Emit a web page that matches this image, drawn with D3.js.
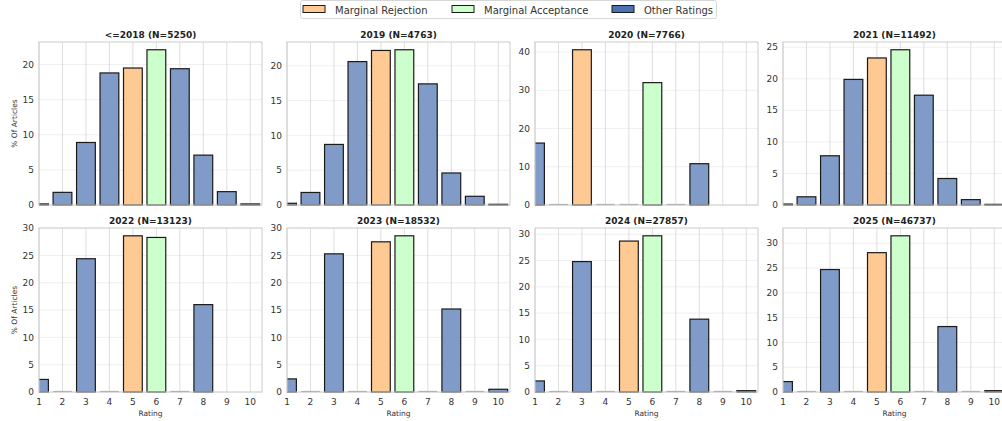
<!DOCTYPE html>
<html><head><meta charset="utf-8">
<script src="https://cdn.jsdelivr.net/npm/d3@7"></script>
<style>
html,body{margin:0;padding:0;background:#fff;}
svg{display:block;font-family:"DejaVu Sans",sans-serif;}
</style></head>
<body><svg id="c" width="1002" height="421"></svg>
<script>
const ratings = [1,2,3,4,5,6,7,8,9,10];
const panelTitles = ["<=2018 (N=5250)","2019 (N=4763)","2020 (N=7766)","2021 (N=11492)",
                     "2022 (N=13123)","2023 (N=18532)","2024 (N=27857)","2025 (N=46737)"];
const v2018 = [0.15,1.8,8.9,18.8,19.5,22.1,19.4,7.1,1.9,0.15];
const v2019 = [0.25,1.8,8.7,20.6,22.2,22.3,17.4,4.6,1.25,0.1];
const v2020 = [16.2,0,40.6,0,0,32.0,0,10.8,null,null];
const v2021 = [0.15,1.3,7.8,19.9,23.3,24.6,17.4,4.2,0.85,0.1];
const v2022 = [2.3,0,24.4,0,28.6,28.3,0,16.0,null,null];
const v2023 = [2.4,0,25.3,0,27.5,28.6,0,15.2,0,0.5];
const v2024 = [2.1,0,24.8,0,28.7,29.7,0,13.85,0,0.25];
const v2025 = [2.1,0,24.7,0,28.1,31.5,0,13.2,0,0.27];
const seriesValues = [v2018,v2019,v2020,v2021,v2022,v2023,v2024,v2025];
const marginalReject = [5,5,3,5,5,5,5,5];
const marginalAccept = [6,6,6,6,6,6,6,6];
const legendLabels = ["Marginal Rejection","Marginal Acceptance","Other Ratings"];
const xTickLabels = ["1","2","3","4","5","6","7","8","9","10"];

const colOrange = "#FFC994", colGreen = "#CCFFCC", colBlue = "#819BC8";
const legendFill = ["#FFC994","#CCFFCC","#4C72B0"];

const svg = d3.select("#c");
const lefts = [39,287,535,783];
const pw = 223;
const rows = [{top:42,bottom:205},{top:228,bottom:392}];

seriesValues.forEach((vals,i)=>{
  const col = i%4, row = Math.floor(i/4);
  const x0 = lefts[col], {top,bottom} = rows[row];
  const fillFor = r => r===marginalReject[i]?colOrange:(r===marginalAccept[i]?colGreen:colBlue);
  const x = d3.scaleLinear().domain([1,10.5]).range([x0,x0+pw]);
  const ymax = d3.max(vals.filter(v=>v!==null))*1.05;
  const y = d3.scaleLinear().domain([0,ymax]).range([bottom,top]);
  const g = svg.append("g");
  const clipId = "clip"+i;
  g.append("clipPath").attr("id",clipId).append("rect")
    .attr("x",x0).attr("y",top-2).attr("width",pw).attr("height",bottom-top+4);
  const yt = y.ticks(5);
  g.selectAll(".hg").data(yt).enter().append("line")
    .attr("x1",x0).attr("x2",x0+pw).attr("y1",d=>y(d)).attr("y2",d=>y(d))
    .attr("stroke","#ececec").attr("stroke-width",0.8);
  g.selectAll(".vg").data(ratings).enter().append("line")
    .attr("x1",d=>x(d)).attr("x2",d=>x(d)).attr("y1",top).attr("y2",bottom)
    .attr("stroke","#d6d6d6").attr("stroke-width",0.8);
  const bw = x(1.8)-x(1);
  const bars = ratings.map((r,j)=>({r, v:vals[j]})).filter(d=>d.v!==null);
  const bg = g.append("g").attr("clip-path","url(#"+clipId+")");
  bg.selectAll("rect.bar").data(bars.filter(d=>d.v>0)).enter().append("rect")
    .attr("x",d=>x(d.r)-bw/2).attr("width",bw)
    .attr("y",d=>y(d.v)).attr("height",d=>bottom-y(d.v))
    .attr("fill",d=>fillFor(d.r)).attr("stroke","#1a1a1a").attr("stroke-width",1.2);
  bg.selectAll("line.zero").data(bars.filter(d=>d.v===0)).enter().append("line")
    .attr("x1",d=>x(d.r)-bw/2).attr("x2",d=>x(d.r)+bw/2)
    .attr("y1",bottom-0.5).attr("y2",bottom-0.5)
    .attr("stroke","#999").attr("stroke-width",1.2);
  g.append("rect").attr("x",x0).attr("y",top).attr("width",pw).attr("height",bottom-top)
    .attr("fill","none").attr("stroke","#cccccc").attr("stroke-width",1);
  g.selectAll(".yl").data(yt).enter().append("text")
    .attr("x",x0-5).attr("y",d=>y(d)).attr("dy","0.35em").attr("text-anchor","end")
    .attr("font-size",9).attr("fill","#333").text(d=>d);
  g.append("text").attr("x",x0+pw/2).attr("y",top-4).attr("text-anchor","middle")
    .attr("font-size",9).attr("font-weight","bold").attr("fill","#222").text(panelTitles[i]);
  if(row===1){
    g.selectAll(".xl").data(ratings).enter().append("text")
      .attr("x",d=>x(d)).attr("y",bottom+13).attr("text-anchor","middle")
      .attr("font-size",9).attr("fill","#333").text((d,j)=>xTickLabels[j]);
    g.append("text").attr("x",x0+pw/2).attr("y",bottom+24).attr("text-anchor","middle")
      .attr("font-size",7.5).attr("fill","#333").text("Rating");
  }
  if(col===0){
    g.append("text").attr("transform",`translate(17,${(top+bottom)/2}) rotate(-90)`)
      .attr("text-anchor","middle").attr("font-size",7.5).attr("fill","#333").text("% Of Articles");
  }
});

const lg = svg.append("g");
lg.append("rect").attr("x",300.5).attr("y",0.5).attr("width",416).attr("height",18).attr("rx",2)
  .attr("fill","#fff").attr("stroke","#d6d6d6").attr("stroke-width",1);
const lx = [303,452,612];
legendLabels.forEach((t,k)=>{
  lg.append("rect").attr("x",lx[k]).attr("y",5.5).attr("width",22).attr("height",7)
    .attr("fill",legendFill[k]).attr("stroke","#1a1a1a").attr("stroke-width",1);
  lg.append("text").attr("x",lx[k]+32).attr("y",13.5).attr("font-size",10)
    .attr("fill","#333").text(t);
});
</script></body></html>
